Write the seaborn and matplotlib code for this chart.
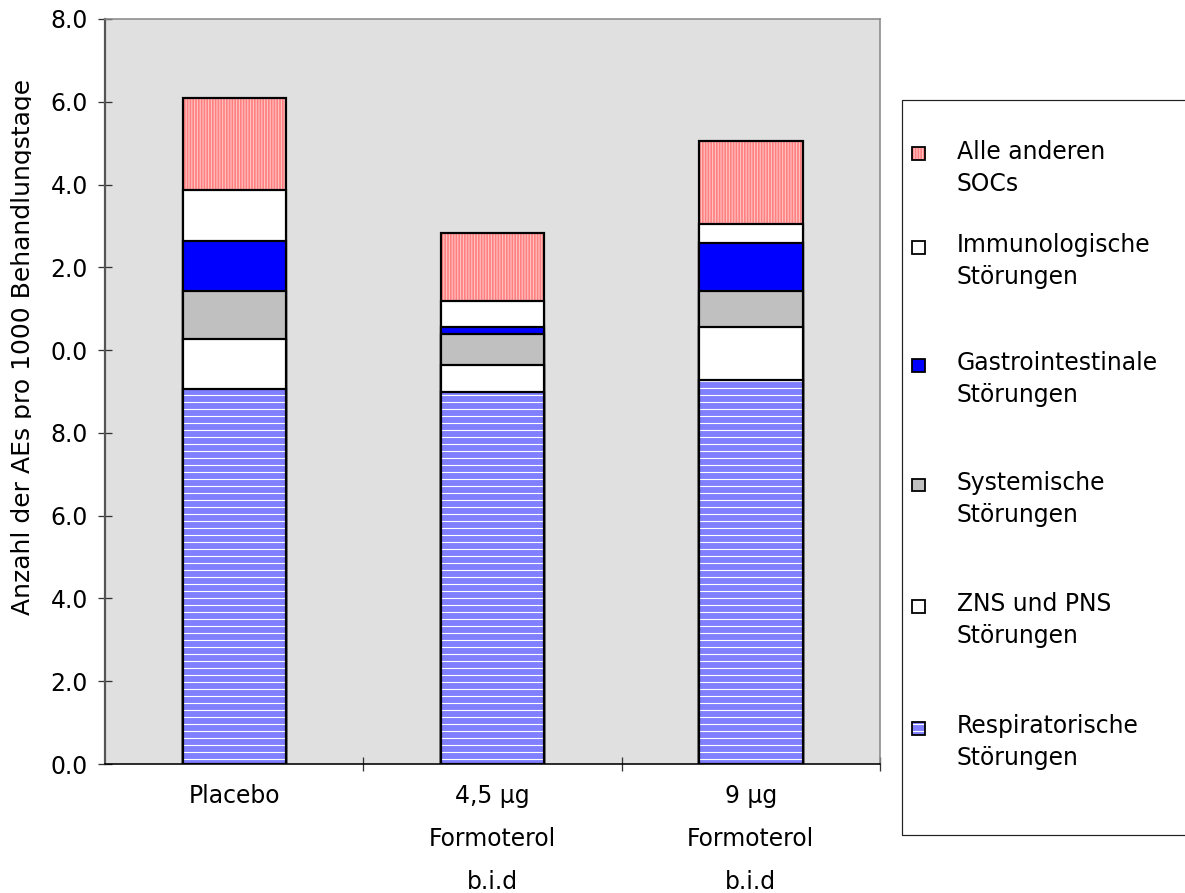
import matplotlib
matplotlib.use("Agg")
import matplotlib.pyplot as plt
import seaborn as sns
import numpy as np
import pandas as pd
from matplotlib.patches import Rectangle
from matplotlib.transforms import Bbox, TransformedBbox
from matplotlib.ticker import FixedLocator

# ---- data -------------------------------------------------------------
groups = ["Placebo", "4,5 µg\nFormoterol\nb.i.d", "9 µg\nFormoterol\nb.i.d"]

respiratorisch = [9.05, 8.99, 9.28]
zns_pns = [1.21, 0.64, 1.29]
systemisch = [1.18, 0.77, 0.87]
gastrointestinal = [1.19, 0.17, 1.14]
immunologisch = [1.25, 0.62, 0.47]
andere = [2.20, 1.65, 2.00]

series_labels = [
    "Respiratorische\nStörungen",
    "ZNS und PNS\nStörungen",
    "Systemische\nStörungen",
    "Gastrointestinale\nStörungen",
    "Immunologische\nStörungen",
    "Alle anderen\nSOCs",
]

y_ticks = [0, 2, 4, 6, 8, 10, 12, 14, 16, 18]
y_tick_labels = ["0.0", "2.0", "4.0", "6.0", "8.0", "0.0", "2.0", "4.0", "6.0", "8.0"]
y_label = "Anzahl der AEs pro 1000 Behandlungstage"

# ---- figure geometry ---------------------------------------------------
DPI = 84
W_PX, H_PX = 1185, 893
PT = 72.0 / DPI          # points per pixel
FS = 23.5 * PT           # font size

sns.set_theme(style="white")
plt.rcParams["font.family"] = ["DejaVu Sans"]
plt.rcParams["hatch.linewidth"] = 1.1 * PT

fig = plt.figure(figsize=(W_PX / DPI, H_PX / DPI), dpi=DPI)
fig.patch.set_facecolor("white")

def fx(px):
    return px / W_PX

def fy(py):
    return 1 - py / H_PX

ax = fig.add_axes([fx(105), fy(764), fx(880) - fx(105), fy(19) - fy(764)])
ax.set_facecolor("#E0E0E0")

# bottom-to-top segment styles: (face, hatch, hatch colour)
styles = [
    ("#8080FF", "--", "white"),
    ("white", None, None),
    ("#C0C0C0", None, None),
    ("#0000FF", None, None),
    ("white", None, None),
    ("#FF8080", "|||||", "#FFC4C4"),
]

series = [respiratorisch, zns_pns, systemisch, gastrointestinal, immunologisch, andere]
cum = np.cumsum(np.array(series), axis=0)

df = pd.DataFrame({"Gruppe": groups})
BAR_W = 0.40
EDGE_LW = 2.2 * PT

# stacked bars: draw cumulative totals from the top layer downwards
for k in reversed(range(len(series))):
    face, hatch, hcol = styles[k]
    df["wert"] = cum[k]

    n0 = len(ax.patches)
    sns.barplot(data=df, x="Gruppe", y="wert", order=groups, width=BAR_W,
                color=face, saturation=1, errorbar=None, ax=ax)
    for p in ax.patches[n0:]:
        p.set_facecolor(face)
        p.set_linewidth(0)
        if hatch:
            p.set_hatch(hatch)
            p.set_edgecolor(hcol)
        else:
            p.set_edgecolor(face)

    n1 = len(ax.patches)
    sns.barplot(data=df, x="Gruppe", y="wert", order=groups, width=BAR_W,
                color=face, saturation=1, errorbar=None, ax=ax)
    for p in ax.patches[n1:]:
        p.set_facecolor("none")
        p.set_edgecolor("black")
        p.set_linewidth(EDGE_LW)

ax.set_xlabel("")
ax.set_ylabel("")
ax.set_xlim(-0.5, 2.5)
ax.set_ylim(0, 18)

# y axis
ax.yaxis.set_major_locator(FixedLocator(y_ticks))
ax.set_yticklabels(y_tick_labels)
ax.tick_params(axis="y", left=True, direction="inout", length=14 * PT,
               width=1.3 * PT, pad=10 * PT, labelsize=FS, labelcolor="black",
               color="#333333")

# x axis: labels at bar centres, tick marks between the groups
ax.set_xticks([0, 1, 2])
ax.set_xticklabels(groups, linespacing=2.0)
ax.set_xticks([0.5, 1.5, 2.5], minor=True)
ax.tick_params(axis="x", which="major", bottom=True, length=0, pad=20 * PT,
               labelsize=FS, labelcolor="black")
ax.tick_params(axis="x", which="minor", bottom=True, direction="inout",
               length=14 * PT, width=1.3 * PT, color="#333333")

for side, col, lw in [("left", "#555555", 2.2), ("bottom", "black", 1.6),
                      ("top", "#8a8a8a", 1.6), ("right", "#8a8a8a", 1.6)]:
    ax.spines[side].set_visible(True)
    ax.spines[side].set_color(col)
    ax.spines[side].set_linewidth(lw * PT)

# y axis title, clipped on the axis side like a narrow text box
ylab = fig.text(fx(11), fy(347), y_label, rotation=90, ha="left", va="center",
                fontsize=25 * PT, color="black")
ylab.set_clip_box(TransformedBbox(Bbox([[0, 0], [fx(31), 1]]), fig.transFigure))
ylab.set_clip_on(True)

# legend box (runs off the right edge)
fig.add_artist(Rectangle((fx(902), fy(835)), fx(1220) - fx(902), fy(100) - fy(835),
                         transform=fig.transFigure, fill=False,
                         edgecolor="#222222", linewidth=1.2 * PT, clip_on=False))

legend_rows = [152, 245, 363, 483, 604, 726]
SQ = 13
LINE_STEP = 31
for row_y, k in zip(legend_rows, reversed(range(len(series)))):
    face, hatch, hcol = styles[k]
    cy = row_y + 2
    sq = Rectangle((fx(912), fy(cy + SQ / 2)), fx(SQ), fy(0) - fy(SQ),
                   transform=fig.transFigure, facecolor=face,
                   edgecolor=hcol if hatch else face, linewidth=0,
                   hatch=hatch)
    fig.add_artist(sq)
    fig.add_artist(Rectangle((fx(912), fy(cy + SQ / 2)), fx(SQ), fy(0) - fy(SQ),
                             transform=fig.transFigure, fill=False,
                             edgecolor="black", linewidth=1.8 * PT))
    # baseline of the last line of the two-line label
    fig.text(fx(957), fy(row_y + 8 + LINE_STEP), series_labels[k], ha="left",
             va="baseline", fontsize=FS, color="black", linespacing=1.40)

fig.savefig("out.png", dpi=DPI)
